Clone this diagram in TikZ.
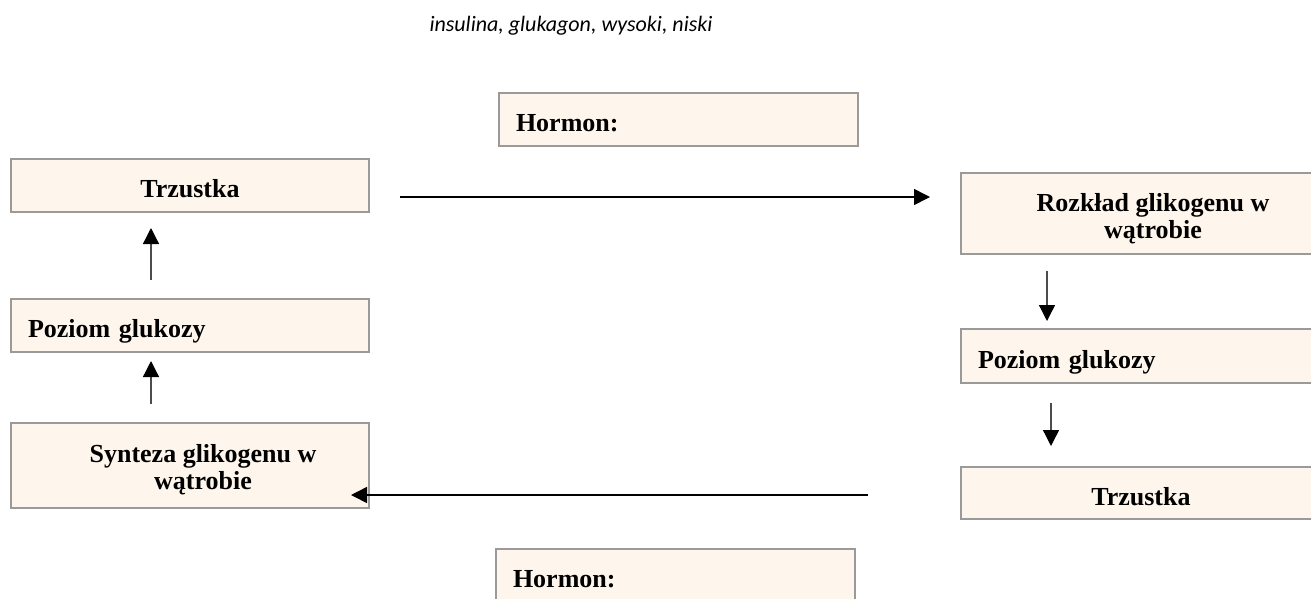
\documentclass[tikz,border=0pt]{standalone}
\usepackage{fontspec}
\setmainfont{Liberation Serif}
\newfontfamily\notefont{Carlito}
\usetikzlibrary{
    arrows.meta,
    positioning
}
\definecolor{boxfill}{HTML}{FEF6EC}
\definecolor{boxline}{HTML}{9A9A9A}

\begin{document}
\begin{tikzpicture}[
    x=1pt, y=-1pt,
    font=\fontsize{26}{27}\selectfont\bfseries,
    box/.style={
        rectangle,
        draw=boxline,
        line width=2pt,
        fill=boxfill,
        inner xsep=17pt,
        inner ysep=0pt,
        align=center,
        text height=24pt,
        text depth=0pt,
        minimum height=53pt
    },
    boxtext/.style={
        align=center,
        inner sep=0pt
    },
    arrow/.style={
        -{Triangle[length=16pt,width=16pt,color=black]},
        line width=1.3pt,
        draw=black!70
    },
    hline/.style={
        -{Triangle[length=16pt,width=16pt]},
        line width=1.5pt,
        draw=black
    },
    note/.style={
        font=\notefont\mdseries\itshape\fontsize{22}{26}\selectfont,
        inner sep=0pt
    }
]
\clip (0,0) rectangle (1311,598);

% =========================================================
% Word list
% =========================================================
\node[note] (words) at (571,26) {insulina, glukagon, wysoki, niski};

% =========================================================
% Hormone boxes
% =========================================================
\node[box, minimum width=359pt, text width=325pt, align=left] (hormonTop) at (678.5,119.5)
{Hormon:};

\node[box, minimum width=359pt, text width=325pt, align=left] (hormonBot) at (675.5,575.5)
{Hormon:};

% =========================================================
% Left chain
% =========================================================
\node[box, minimum width=358pt, text width=324pt] (trzL) at (190,185.5)
{Trzustka};

\node[box, minimum width=358pt, text width=324pt, align=left] (pozL) at (190,325.5)
{Poziom glukozy};

\node[box, minimum width=358pt, minimum height=85pt] (synL) at (190,465.5) {};
\node[boxtext] (synText) at ([xshift=13pt,yshift=-4.5pt]synL.center)
{Synteza glikogenu w\\wątrobie};

% =========================================================
% Right chain
% =========================================================
\node[box, minimum width=384pt, minimum height=81pt] (rozR) at (1153,213.5) {};
\node[boxtext] (rozText) at ([yshift=-5.5pt]rozR.center)
{Rozkład glikogenu w\\wątrobie};

\node[box, minimum width=360pt, text width=326pt, minimum height=54pt, align=left] (pozR) at (1141,356)
{Poziom glukozy};

\node[box, minimum width=360pt, text width=326pt, minimum height=52pt] (trzR) at (1141,493)
{Trzustka};

% =========================================================
% Arrows
% =========================================================
\coordinate (topStart) at (400,197);
\coordinate (topEnd) at (930,197);
\coordinate (botStart) at (868,495);
\coordinate (botEnd) at (351,495);

\draw[hline] (topStart) -- (topEnd);
\draw[hline] (botStart) -- (botEnd);

\draw[arrow, shorten <=18pt, shorten >=15pt] ([xshift=-39pt]pozL.north) -- ([xshift=-39pt]trzL.south);
\draw[arrow, shorten <=18pt, shorten >=8pt] ([xshift=-39pt]synL.north) -- ([xshift=-39pt]pozL.south);

\draw[arrow, shorten <=16pt, shorten >=7pt] ([xshift=-106pt]rozR.south) -- ([xshift=-94pt]pozR.north);
\draw[arrow, shorten <=19pt, shorten >=20pt] ([xshift=-90pt]pozR.south) -- ([xshift=-90pt]trzR.north);

\end{tikzpicture}
\end{document}
